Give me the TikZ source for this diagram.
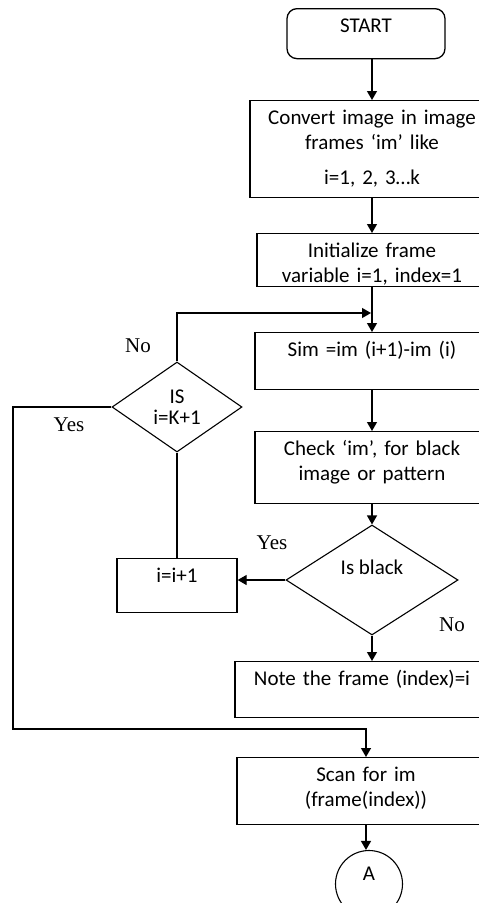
\documentclass[tikz,border=0pt]{standalone}
\usepackage{fontspec}
\setmainfont{Carlito}
\newfontfamily\labelfont{Liberation Serif}
\usetikzlibrary{shapes.geometric,arrows.meta}

\begin{document}
\begin{tikzpicture}[
            x=1pt, y=-1pt,
            every node/.style={font=\fontsize{21}{25}\selectfont},
            process/.style={
                draw,
                line width=1.3pt,
                anchor=north,
                align=center,
                inner xsep=4pt,
                inner ysep=0pt,
                text height=24pt
            },
            decision/.style={
                draw,
                diamond,
                line width=1.1pt,
                inner sep=0pt,
                align=center
            },
            answer/.style={
                font=\labelfont\fontsize{21}{25}\selectfont
            },
            line/.style={line width=1.3pt},
            arrow/.style={line width=1.3pt, -{Triangle[length=9pt, width=10pt]}}
        ]

            \useasboundingbox (0,0) rectangle (479,903);

            \node[process, rounded corners=10pt, text width=150pt, text depth=26pt] (start) at (366,8) {START};
            \node[process, text width=236pt, text depth=73pt] (convert) at (372,100)
                {Convert image in image\\ frames ‘im’ like\\[10pt] i=1, 2, 3…k};
            \node[process, text width=222pt, text depth=29pt] (init) at (372,233)
                {Initialize frame\\ variable i=1, index=1};
            \node[process, text width=226pt, text depth=33pt] (sim) at (372,332) {Sim =im (i+1)-im (i)};
            \node[process, text width=226pt, text depth=48pt] (check) at (372,431)
                {Check ‘im’, for black\\ image or pattern};

            \node[decision, aspect=1.6, minimum width=172pt, minimum height=110pt,
                text height=14pt, text depth=26pt] (isblack) at (372,580) {Is black};
            \node[decision, aspect=1.44, minimum width=130pt, minimum height=90pt] (iscond) at (177,407)
                {IS\\[-4pt] i=K+1};

            \node[process, text width=112pt, text depth=30pt] (inc) at (177,558) {i=i+1};
            \node[process, text width=246pt, text depth=32pt] (note) at (362,661) {Note the frame (index)=i};
            \node[process, text width=250pt, text depth=43pt] (scan) at (366,757)
                {Scan for im\\ (frame(index))};
            \node[draw, circle, line width=1.1pt, minimum size=67pt, inner sep=0pt,
                text depth=20pt] (endA) at (369,884) {A};

            \coordinate (join) at (371,313);
            \coordinate (turn) at (13,729);

            \node[answer] (no1) at (138,346) {No};
            \node[answer] (yes1) at (69,425) {Yes};
            \node[answer] (yes2) at (272,543) {Yes};
            \node[answer] (no2) at (452,625) {No};

            \draw[arrow] (start.south -| convert.north) -- (convert);
            \draw[arrow] (convert) -- (init);
            \draw[arrow] (init) -- (sim);
            \draw[arrow] (sim) -- (check);
            \draw[arrow] (check) -- (isblack);
            \draw[arrow] (isblack.south) -- (isblack.south |- note.north);
            \draw[arrow] (isblack.west) -- (isblack.west -| inc.east);
            \draw[line] (inc) -- (iscond);
            \draw[arrow] (iscond.north) |- (join);
            \draw[arrow] (iscond.west) -| (turn) -| (scan.north);
            \draw[arrow] (scan.south) -- (scan.south |- endA.north);

        \end{tikzpicture}
\end{document}
